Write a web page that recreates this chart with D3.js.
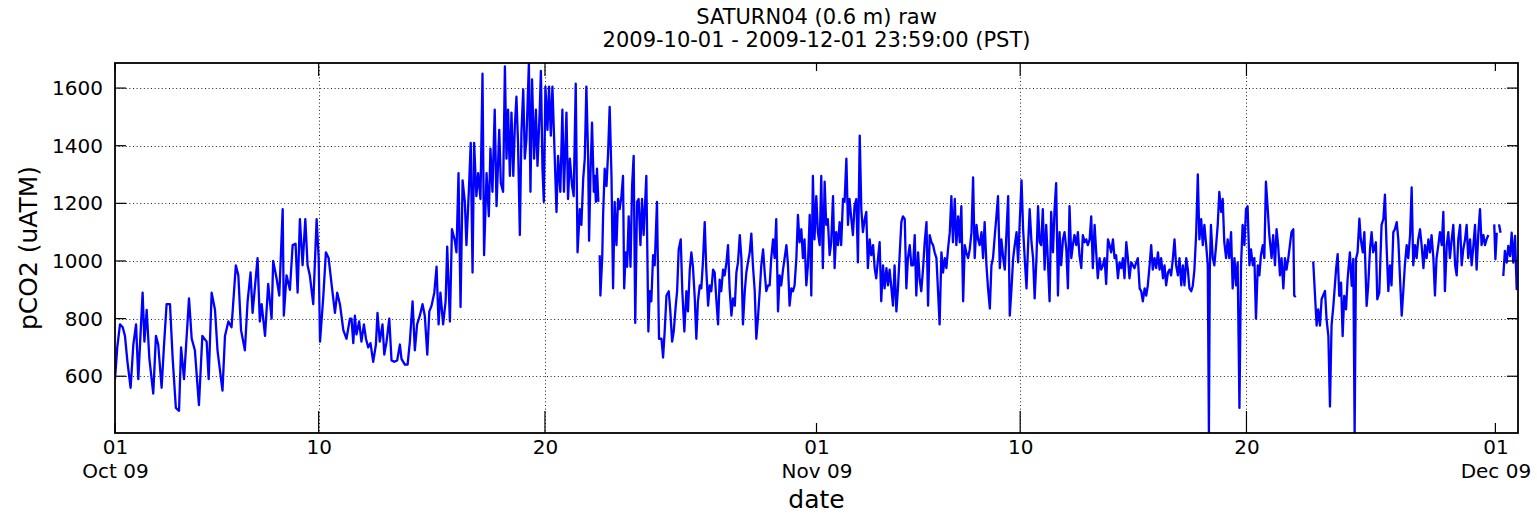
<!DOCTYPE html>
<html>
<head>
<meta charset="utf-8">
<script src="https://cdn.jsdelivr.net/npm/d3@7"></script>
<style>
  body { margin: 0; background: #fff; }
  text { font-family: "DejaVu Sans", sans-serif; fill: #000; }
</style>
</head>
<body>
<script>
const width = 1537;
const height = 515;
const plotLeft = 115, plotRight = 1518, plotTop = 63, plotBottom = 433;

const titleLines = ["SATURN04 (0.6 m) raw", "2009-10-01 - 2009-12-01 23:59:00 (PST)"];
const yLabel = "pCO2 (uATM)";
const xLabel = "date";
const yTicks = [600, 800, 1000, 1200, 1400, 1600];
const startTime = Date.UTC(2009, 9, 1);
const endTime = Date.UTC(2009, 11, 1, 23, 59);

// readings: [days since 2009-10-01 00:00, pCO2 uATM]
const oct01to10 = [
  [0.00,590],[0.10,700],[0.22,780],[0.34,770],[0.44,740],[0.55,650],[0.69,560],[0.81,710],[0.93,780],[1.03,590],
  [1.22,890],[1.30,720],[1.40,830],[1.52,660],[1.69,540],[1.81,740],[1.91,710],[2.06,560],[2.16,700],[2.28,850],
  [2.43,850],[2.55,660],[2.69,490],[2.83,480],[2.92,700],[3.05,590],[3.27,870],[3.39,730],[3.53,690],[3.71,500],
  [3.86,740],[4.05,720],[4.14,590],[4.27,890],[4.42,830],[4.53,690],[4.75,550],[4.86,740],[5.01,790],[5.15,770],
  [5.34,985],[5.45,950],[5.57,760],[5.74,690],[5.86,860],[5.99,960],[6.08,820],[6.30,1010],[6.40,790],[6.48,850],
  [6.63,740],[6.77,920],[6.92,800],[6.99,1000],[7.14,940],[7.26,880],[7.41,1180],[7.46,810],[7.58,950],[7.73,900],
  [7.85,1055],[7.98,1060],[8.07,890],[8.17,1145],[8.29,985],[8.41,1145],[8.51,985],[8.61,950],[8.76,850],[8.91,1145],
  [9.00,1010],[9.06,720],[9.20,870],[9.32,1030],[9.44,1010],[9.57,920],[9.72,820],[9.82,890],[9.94,850]
];
const oct10to21 = [
  [10.09,760],[10.23,730],[10.38,800],[10.45,800],[10.53,715],[10.60,810],[10.67,745],[10.79,790],[10.89,720],[11.00,780],
  [11.09,730],[11.19,700],[11.29,715],[11.41,650],[11.53,710],[11.60,820],[11.70,720],[11.82,780],[11.90,675],[12.00,720],
  [12.12,800],[12.22,655],[12.34,650],[12.47,655],[12.59,710],[12.66,660],[12.81,640],[12.93,640],[13.03,720],[13.15,860],
  [13.25,690],[13.35,780],[13.47,810],[13.59,850],[13.69,810],[13.80,675],[13.89,825],[13.99,845],[14.11,890],[14.21,980],
  [14.30,780],[14.38,890],[14.50,780],[14.61,860],[14.68,1050],[14.80,790],[14.89,1110],[15.02,1070],[15.09,1030],[15.18,1305],
  [15.27,840],[15.36,1280],[15.46,1205],[15.53,1055],[15.64,1250],[15.72,1410],[15.80,960],[15.87,1410],[15.97,1225],[16.05,1305],
  [16.15,1215],[16.24,1650],[16.31,1020],[16.42,1305],[16.52,1155],[16.59,1390],[16.68,1240],[16.78,1525],[16.86,1190],[16.98,1455],
  [17.05,1270],[17.15,1240],[17.23,1675],[17.30,1355],[17.37,1525],[17.45,1295],[17.52,1515],[17.60,1295],[17.67,1470],[17.74,1570],
  [17.81,1410],[17.89,1090],[17.96,1445],[18.04,1595],[18.11,1355],[18.18,1420],[18.29,1687],[18.36,1240],[18.43,1630],[18.52,1355],
  [18.60,1525],[18.67,1330],[18.77,1525],[18.82,1660],[18.89,1320],[18.95,1205],[19.02,1605],[19.11,1455],[19.18,1605],[19.26,1435],
  [19.33,1605],[19.43,1365],[19.51,1170],[19.58,1365],[19.68,1240],[19.77,1525],[19.84,1240],[19.95,1515],[20.02,1215],[20.10,1355],
  [20.20,1260],[20.27,1225],[20.36,1615],[20.44,1030],[20.54,1180],[20.61,1125],[20.69,1285],[20.76,1355],[20.83,1605],[20.91,1355],
  [20.95,1070],[21.01,1295],[21.08,1480],[21.16,1240],[21.20,1295],[21.25,1205],[21.30,1320],[21.36,1205]
];
const oct21to31 = [
  [21.42,1020],[21.45,880],[21.53,1010],[21.57,1160],[21.64,1320],[21.72,1260],[21.79,1375],[21.86,1535],[21.94,1295],[22.01,905],
  [22.08,1205],[22.16,1055],[22.23,1215],[22.30,1180],[22.38,1225],[22.45,1295],[22.50,905],[22.57,1030],[22.63,980],[22.70,1155],
  [22.78,980],[22.85,1260],[22.92,1365],[22.99,785],[23.07,1205],[23.14,1215],[23.22,1055],[23.29,1215],[23.36,1090],[23.48,1295],
  [23.57,755],[23.63,895],[23.70,860],[23.78,1020],[23.85,985],[23.95,1205],[24.04,730],[24.15,730],[24.22,665],[24.29,755],
  [24.37,880],[24.47,895],[24.54,825],[24.62,720],[24.69,755],[24.78,845],[24.84,895],[24.91,1040],[25.00,1075],[25.07,895],
  [25.16,755],[25.25,895],[25.32,825],[25.40,970],[25.47,1030],[25.54,980],[25.62,870],[25.69,730],[25.76,860],[25.84,915],
  [25.91,905],[25.98,995],[26.06,1135],[26.13,970],[26.21,845],[26.28,915],[26.35,895],[26.43,970],[26.50,960],[26.57,870],
  [26.65,780],[26.72,935],[26.79,895],[26.87,970],[26.94,950],[27.02,995],[27.09,1055],[27.16,905],[27.24,810],[27.31,870],
  [27.39,845],[27.46,960],[27.53,995],[27.61,1090],[27.68,1010],[27.75,780],[27.83,895],[27.90,960],[27.97,995],[28.05,1030],
  [28.12,1095],[28.19,985],[28.27,895],[28.34,730],[28.41,800],[28.49,895],[28.56,985],[28.64,1040],[28.71,960],[28.78,895],
  [28.86,915],[28.93,915],[29.00,1010],[29.08,1075],[29.15,1010],[29.22,1145],[29.30,825],[29.37,950],[29.44,915],[29.52,970],
  [29.59,1010],[29.67,1055],[29.74,985],[29.81,845],[29.89,905],[29.96,895],[30.03,915],[30.11,1010],[30.18,1160],[30.25,1065],
  [30.33,1110],[30.40,1010],[30.47,1075],[30.55,915],[30.62,985],[30.70,1160],[30.77,880],[30.84,1295],[30.91,1075],[30.99,1225]
];
const nov01to10 = [
  [31.06,1100],[31.14,1055],[31.21,1295],[31.28,975],[31.36,1275],[31.43,1125],[31.50,1145],[31.58,1020],[31.65,1065],[31.73,1225],
  [31.80,975],[31.87,1100],[31.95,1055],[32.02,1135],[32.09,1055],[32.17,1215],[32.24,1205],[32.32,1355],[32.39,1125],[32.46,1215],
  [32.54,1145],[32.61,1090],[32.68,1190],[32.76,1215],[32.83,995],[32.91,1435],[32.98,1180],[33.05,1100],[33.13,1145],[33.20,1170],
  [33.27,975],[33.35,1075],[33.42,1020],[33.50,1055],[33.57,975],[33.64,940],[33.72,1010],[33.79,1065],[33.86,860],[33.94,985],
  [34.01,905],[34.09,975],[34.16,915],[34.23,970],[34.31,905],[34.38,845],[34.45,985],[34.53,825],[34.60,905],[34.68,1030],
  [34.75,1135],[34.82,1155],[34.90,1145],[34.97,905],[35.04,1010],[35.12,1055],[35.19,985],[35.27,985],[35.34,1090],[35.41,880],
  [35.49,1030],[35.56,935],[35.63,895],[35.71,975],[35.78,1065],[35.86,1135],[35.93,845],[36.00,1090],[36.08,1065],[36.15,1055],
  [36.22,1030],[36.30,1010],[36.37,895],[36.44,780],[36.52,1030],[36.59,960],[36.67,1010],[36.74,975],[36.81,1040],[36.89,1100],
  [36.96,1225],[37.03,1065],[37.11,1215],[37.18,1055],[37.26,1155],[37.33,1065],[37.40,1190],[37.48,860],[37.55,1055],[37.62,1030],
  [37.70,1010],[37.77,1040],[37.85,1100],[37.92,1290],[37.99,1010],[38.07,1125],[38.14,1075],[38.21,1055],[38.29,1100],[38.36,1010],
  [38.43,1135],[38.51,985],[38.58,905],[38.66,835],[38.73,985],[38.80,1010],[38.88,1090],[38.95,1155],[39.02,1225],[39.10,975],
  [39.17,1075],[39.25,1010],[39.32,970],[39.39,1090],[39.47,1225],[39.54,810],[39.61,895],[39.69,1010],[39.76,1055],[39.84,1100],
  [39.91,995],[39.98,1135]
];
const nov10to22 = [
  [40.06,1280],[40.13,1110],[40.20,1010],[40.28,905],[40.35,1055],[40.42,1180],[40.50,1065],[40.57,1010],[40.64,870],[40.72,1010],
  [40.79,1190],[40.86,1065],[40.93,1055],[41.00,1180],[41.08,970],[41.15,1125],[41.22,1010],[41.30,860],[41.37,1170],[41.45,1030],
  [41.52,1180],[41.59,1270],[41.67,880],[41.74,1100],[41.81,985],[41.89,1075],[41.96,1100],[42.04,1040],[42.11,905],[42.18,1190],
  [42.26,1010],[42.33,1055],[42.40,1090],[42.48,1055],[42.55,1100],[42.62,1020],[42.70,975],[42.77,1090],[42.85,1065],[42.92,1075],
  [42.99,1055],[43.07,1075],[43.14,1155],[43.21,975],[43.29,1125],[43.36,1030],[43.43,940],[43.51,1010],[43.58,970],[43.66,985],
  [43.73,1010],[43.80,920],[43.88,1075],[43.95,1055],[44.02,1030],[44.10,1075],[44.17,1010],[44.24,1020],[44.32,940],[44.39,995],
  [44.47,975],[44.54,1010],[44.61,940],[44.69,1065],[44.76,1010],[44.83,940],[44.91,995],[44.98,985],[45.05,975],[45.13,995],
  [45.20,1010],[45.28,905],[45.35,895],[45.42,860],[45.50,905],[45.57,880],[45.64,915],[45.72,985],[45.79,1055],[45.86,970],
  [45.94,1010],[46.01,975],[46.09,1030],[46.16,970],[46.23,1010],[46.31,940],[46.38,985],[46.45,915],[46.53,960],[46.60,970],
  [46.67,950],[46.75,1010],[46.82,1075],[46.89,985],[46.97,950],[47.04,1010],[47.12,915],[47.19,985],[47.26,915],[47.34,1010],
  [47.41,970],[47.48,905],[47.56,895],[47.63,915],[47.70,970],[47.78,1100],[47.85,1300],[47.92,1075],[48.00,1145],[48.07,1055],
  [48.14,1125],[48.22,1055],[48.29,985],[48.34,403],[48.38,970],[48.43,1125],[48.51,1010],[48.58,985],[48.66,1055],[48.73,1125],
  [48.80,1240],[48.88,1170],[48.95,1215],[49.02,1065],[49.10,1010],[49.17,1075],[49.24,1010],[49.32,1100],[49.39,905],[49.47,1010],
  [49.54,915],[49.61,995],[49.69,490],[49.76,985],[49.83,1125],[49.91,1055],[49.98,1180],[50.05,1190],[50.13,985],[50.20,1040],
  [50.28,985],[50.35,1010],[50.42,800],[50.50,985],[50.57,950],[50.64,1020],[50.72,1055],[50.79,1010],[50.86,1275],[50.94,1180],
  [51.01,1090],[51.11,1010],[51.18,1090],[51.26,985],[51.33,1110],[51.40,1055],[51.48,950],[51.55,1010],[51.63,905],[51.70,1010],
  [51.77,970],[51.85,1010],[51.92,1055],[51.99,1100],[52.07,1110],[52.11,880],[52.18,875]
];
const nov22to30 = [
  [52.95,998],[53.10,776],[53.17,832],[53.25,776],[53.32,867],[53.47,896],[53.54,797],[53.62,739],[53.69,495],[53.76,776],
  [53.84,844],[53.96,972],[54.03,1024],[54.10,879],[54.18,925],[54.25,739],[54.32,879],[54.40,832],[54.47,937],[54.57,1030],
  [54.65,914],[54.72,1007],[54.78,403],[54.84,1007],[54.91,1030],[54.99,1147],[55.05,1077],[55.14,1030],[55.21,1100],[55.31,844],
  [55.38,914],[55.46,1042],[55.53,1100],[55.60,1030],[55.72,1065],[55.78,867],[55.87,890],[55.97,1125],[56.05,1145],[56.12,1230],
  [56.19,1055],[56.27,895],[56.34,985],[56.41,915],[56.49,1100],[56.56,1110],[56.64,1135],[56.71,1075],[56.78,950],[56.86,810],
  [56.93,895],[57.00,985],[57.08,1055],[57.15,1010],[57.23,1090],[57.30,1255],[57.37,985],[57.45,1055],[57.52,1010],[57.59,1075],
  [57.67,1110],[57.74,1055],[57.82,975],[57.89,1055],[57.96,1010],[58.04,1075],[58.11,1030],[58.18,1090],[58.26,1010],[58.33,880],
  [58.40,1010],[58.48,1055],[58.55,1100],[58.63,1055],[58.70,1170],[58.77,895],[58.85,1055],[58.92,1100],[58.99,1010],[59.07,1075],
  [59.14,1125],[59.22,985],[59.29,950],[59.36,1075],[59.44,1125],[59.51,985],[59.58,1040],[59.66,1075],[59.73,1125],[59.80,1010],
  [59.88,1075],[59.95,985],[60.03,1055],[60.10,1125],[60.17,970],[60.25,1100],[60.32,1180],[60.39,1055],[60.47,1090],[60.54,1055],
  [60.61,1075],[60.69,1090]
];
const dec01a = [[60.95,1127],[61.00,1006],[61.06,1098]];
const dec01b = [[61.16,1127],[61.23,1098]];
const dec01c = [
  [61.35,948],[61.42,1035],[61.50,994],[61.57,1052],[61.65,1017],[61.72,1098],[61.79,994],[61.87,1087],[61.94,902],[61.97,936]
];

// stretches between the gaps in the record
const runs = [
  [...oct01to10, ...oct10to21],
  [...oct21to31, ...nov01to10, ...nov10to22],
  nov22to30,
  dec01a,
  dec01b,
  dec01c
];

const toDate = d => new Date(startTime + d * 864e5);

const svg = d3.select("body").append("svg")
  .attr("width", width)
  .attr("height", height);

const x = d3.scaleUtc()
  .domain([new Date(startTime), new Date(endTime)])
  .range([plotLeft, plotRight]);

const y = d3.scaleLinear()
  .domain(d3.extent(runs.flat(), p => p[1]))
  .range([plotBottom, plotTop]);

const xTickDates = d3.utcDay.range(new Date(startTime), new Date(endTime))
  .filter(d => [1, 10, 20].includes(d.getUTCDate()));
const isMonth = d => d.getUTCDate() === 1;

// dotted grid
const grid = svg.append("g")
  .attr("stroke", "#222")
  .attr("stroke-width", 1)
  .attr("stroke-dasharray", "1,2.6");

grid.selectAll(".hg").data(yTicks).join("line")
  .attr("x1", plotLeft).attr("x2", plotRight)
  .attr("y1", d => Math.round(y(d)) + 0.5).attr("y2", d => Math.round(y(d)) + 0.5);

grid.selectAll(".vg").data(xTickDates.filter(d => !isMonth(d))).join("line")
  .attr("x1", d => Math.round(x(d)) + 0.5).attr("x2", d => Math.round(x(d)) + 0.5)
  .attr("y1", plotTop).attr("y2", plotBottom);

svg.append("clipPath").attr("id", "plot-clip")
  .append("rect")
  .attr("x", plotLeft).attr("y", plotTop)
  .attr("width", plotRight - plotLeft).attr("height", plotBottom - plotTop);

const line = d3.line()
  .x(p => x(toDate(p[0])))
  .y(p => y(p[1]));

svg.append("g")
  .attr("clip-path", "url(#plot-clip)")
  .selectAll("path")
  .data(runs)
  .join("path")
  .attr("d", line)
  .attr("fill", "none")
  .attr("stroke", "#0000ff")
  .attr("stroke-width", 2.3)
  .attr("stroke-linejoin", "round");

// tick marks, pointing inward on all four sides
const ticks = svg.append("g").attr("stroke", "#000").attr("stroke-width", 1.2);

ticks.selectAll(".yl").data(yTicks).join("line")
  .attr("x1", plotLeft).attr("x2", plotLeft + 11)
  .attr("y1", d => y(d)).attr("y2", d => y(d));
ticks.selectAll(".yr").data(yTicks).join("line")
  .attr("x1", plotRight - 11).attr("x2", plotRight)
  .attr("y1", d => y(d)).attr("y2", d => y(d));
ticks.selectAll(".xb").data(xTickDates).join("line")
  .attr("x1", d => x(d)).attr("x2", d => x(d))
  .attr("y1", plotBottom).attr("y2", d => plotBottom - (isMonth(d) ? 10 : 22));
ticks.selectAll(".xt").data(xTickDates).join("line")
  .attr("x1", d => x(d)).attr("x2", d => x(d))
  .attr("y1", plotTop).attr("y2", d => plotTop + (isMonth(d) ? 8 : 13));

// frame
svg.append("rect")
  .attr("x", plotLeft).attr("y", plotTop)
  .attr("width", plotRight - plotLeft).attr("height", plotBottom - plotTop)
  .attr("fill", "none")
  .attr("stroke", "#000")
  .attr("stroke-width", 1.8);

// axes labels
const xAxis = svg.append("g")
  .attr("transform", `translate(0,${plotBottom})`)
  .call(d3.axisBottom(x).tickValues(xTickDates).tickSize(0).tickPadding(7)
    .tickFormat(d3.utcFormat("%d")));
xAxis.select(".domain").remove();
xAxis.selectAll("text")
  .attr("font-size", 20)
  .attr("font-family", "DejaVu Sans")
  .each(function(d) {
    if (isMonth(d)) {
      d3.select(this).append("tspan")
        .attr("x", 0).attr("dy", "1.2em")
        .text(d3.utcFormat("%b %y")(d));
    }
  });

const yAxis = svg.append("g")
  .attr("transform", `translate(${plotLeft},0)`)
  .call(d3.axisLeft(y).tickValues(yTicks).tickSize(0).tickPadding(12)
    .tickFormat(d3.format("d")));
yAxis.select(".domain").remove();
yAxis.selectAll("text")
  .attr("font-size", 20)
  .attr("font-family", "DejaVu Sans");

svg.append("text")
  .attr("x", (plotLeft + plotRight) / 2).attr("y", 508)
  .attr("text-anchor", "middle")
  .attr("font-size", 25)
  .text(xLabel);

svg.append("text")
  .attr("transform", `translate(37,${(plotTop + plotBottom) / 2}) rotate(-90)`)
  .attr("text-anchor", "middle")
  .attr("font-size", 25)
  .text(yLabel);

svg.append("g").selectAll("text")
  .data(titleLines)
  .join("text")
  .attr("x", (plotLeft + plotRight) / 2)
  .attr("y", (d, i) => 24 + i * 23)
  .attr("text-anchor", "middle")
  .attr("font-size", 21)
  .text(d => d);
</script>
</body>
</html>
